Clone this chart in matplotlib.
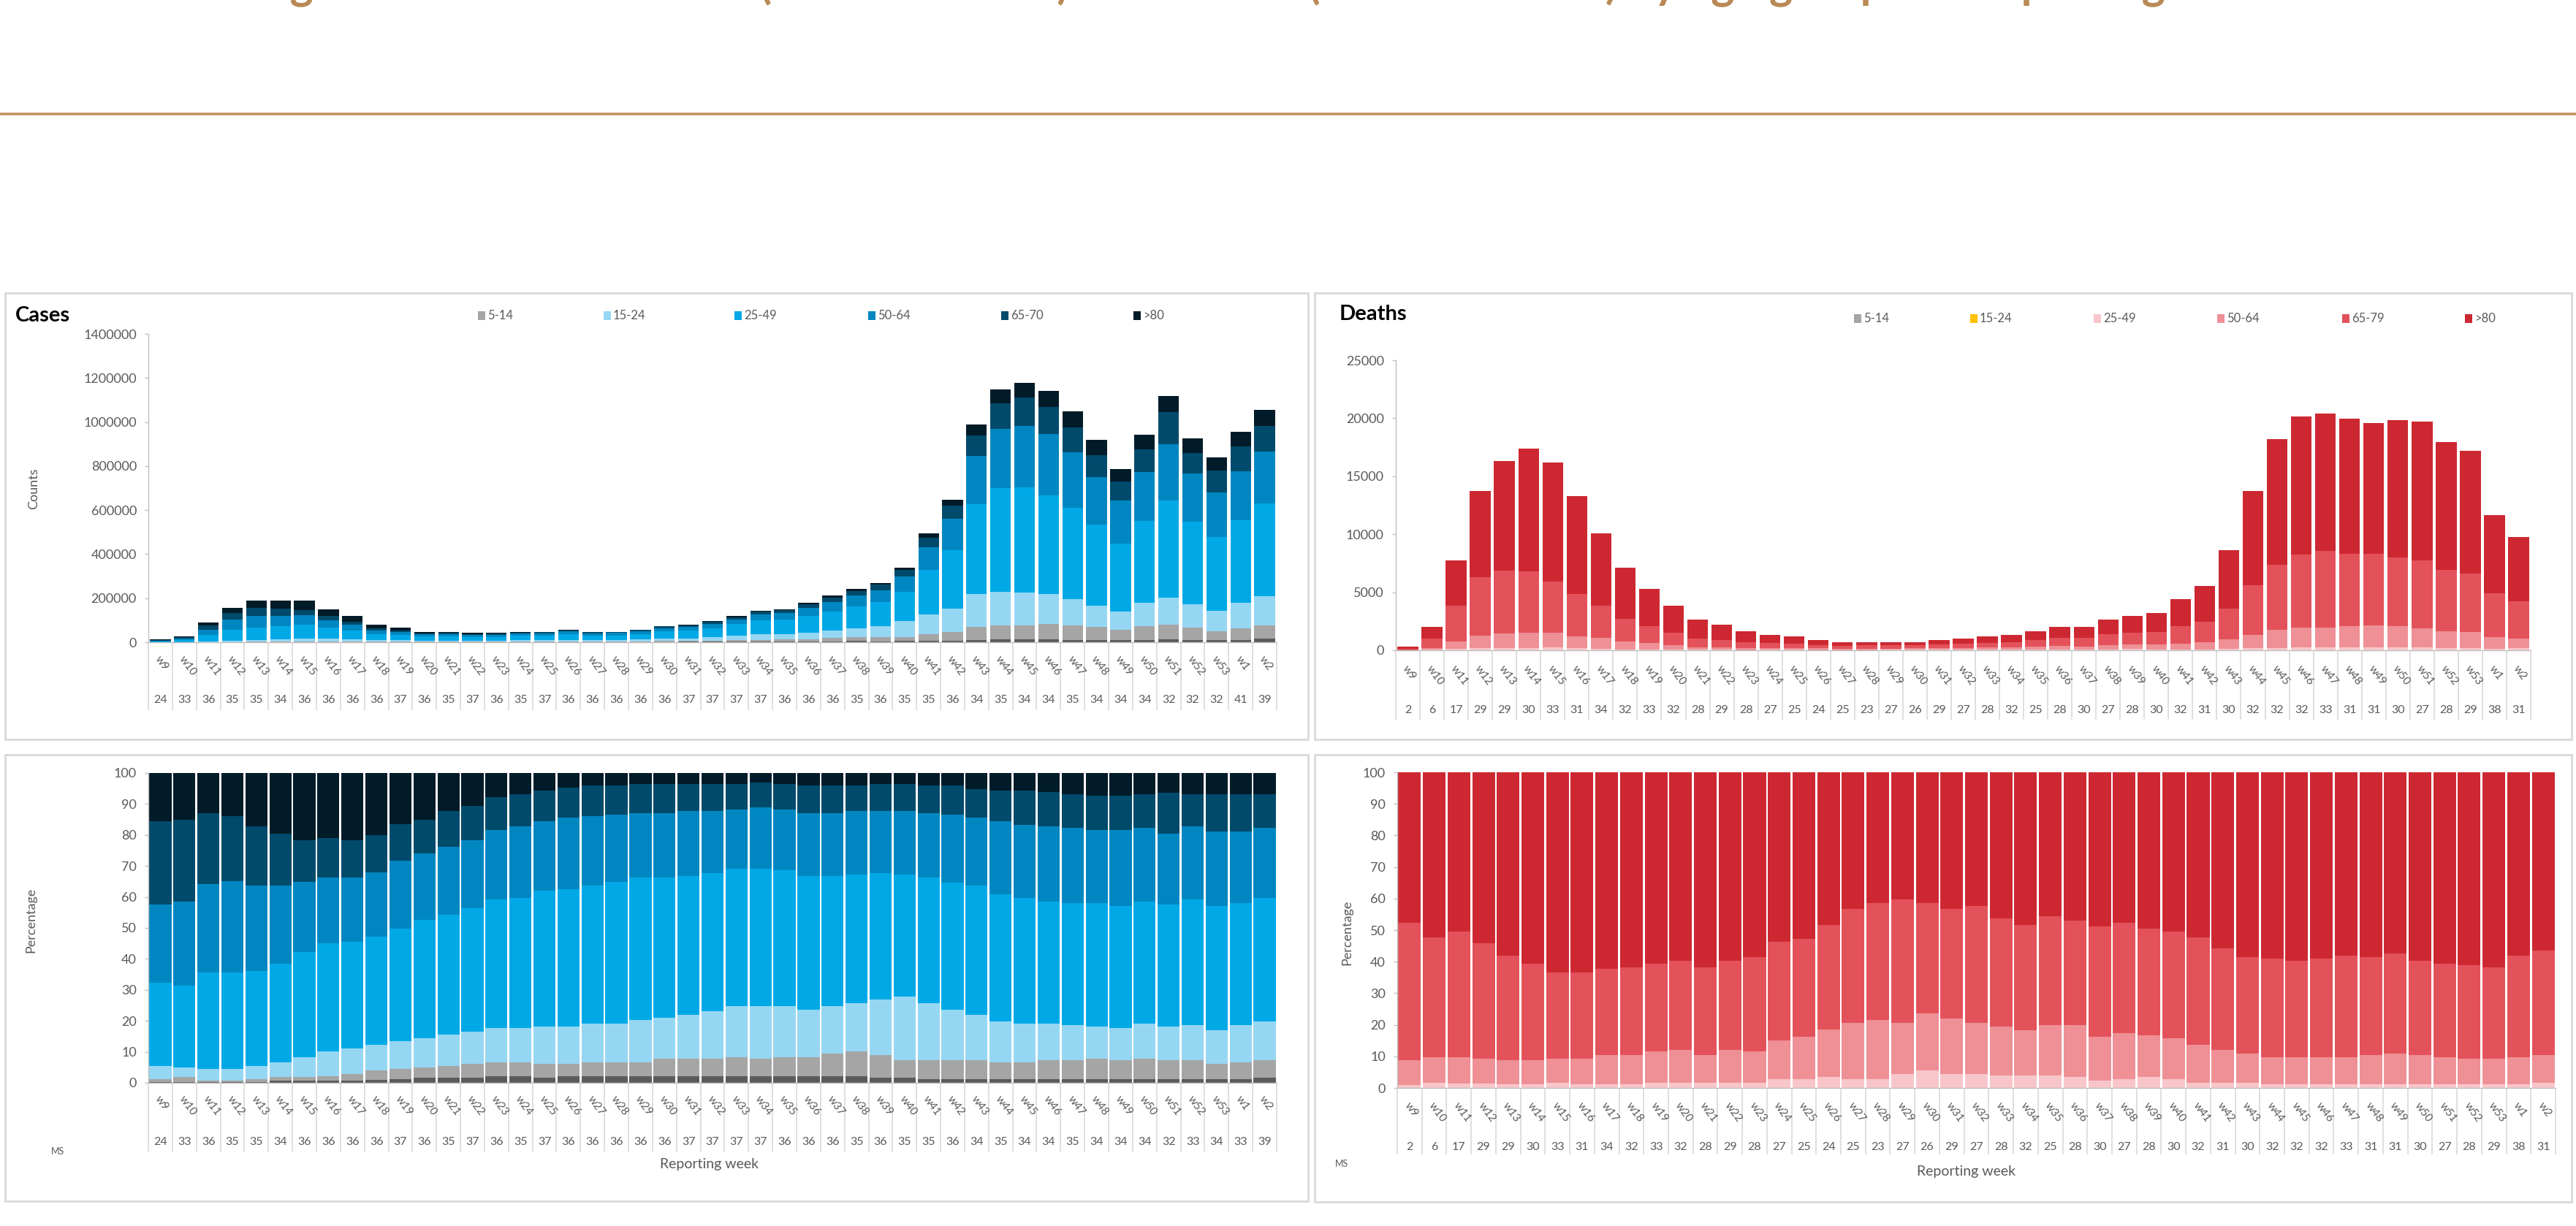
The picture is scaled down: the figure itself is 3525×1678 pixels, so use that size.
import numpy as np
import matplotlib
matplotlib.use("Agg")
import matplotlib.pyplot as plt
from matplotlib.patches import Rectangle
from matplotlib.lines import Line2D
import matplotlib.transforms as mtransforms

plt.rcParams["font.family"] = ["Lato", "DejaVu Sans"]

W, H, DPI = 3525, 1678, 100
GREY_TXT = "#595959"
AXIS = "#BFBFBF"
SEP = "#D9D9D9"

weeks = ["w9", "w10", "w11", "w12", "w13", "w14", "w15", "w16", "w17", "w18",
         "w19", "w20", "w21", "w22", "w23", "w24", "w25", "w26", "w27", "w28",
         "w29", "w30", "w31", "w32", "w33", "w34", "w35", "w36", "w37", "w38",
         "w39", "w40", "w41", "w42", "w43", "w44", "w45", "w46", "w47", "w48",
         "w49", "w50", "w51", "w52", "w53", "w1", "w2"]

# number of reporting member states per week
cases_ms_top = [24, 33, 36, 35, 35, 34, 36, 36, 36, 36, 37, 36, 35, 37, 36, 35, 37, 36, 36, 36,
                36, 36, 37, 37, 37, 37, 36, 36, 36, 35, 36, 35, 35, 36, 34, 35, 34, 34, 35, 34,
                34, 34, 32, 32, 32, 41, 39]
cases_ms_pct = [24, 33, 36, 35, 35, 34, 36, 36, 36, 36, 37, 36, 35, 37, 36, 35, 37, 36, 36, 36,
                36, 36, 37, 37, 37, 37, 36, 36, 36, 35, 36, 35, 35, 36, 34, 35, 34, 34, 35, 34,
                34, 34, 32, 33, 34, 33, 39]
deaths_ms = [2, 6, 17, 29, 29, 30, 33, 31, 34, 32, 33, 32, 28, 29, 28, 27, 25, 24, 25, 23,
             27, 26, 29, 27, 28, 32, 25, 28, 30, 27, 28, 30, 32, 31, 30, 32, 32, 32, 33, 31,
             31, 30, 27, 28, 29, 38, 31]

# weekly totals
cases_total = [12700, 28000, 89000, 156000, 188000, 188000, 188000, 150000, 118000, 80000,
               65000, 48000, 48000, 42000, 42000, 48000, 48000, 57000, 48000, 48000,
               57000, 74000, 80000, 95000, 118000, 143000, 150000, 179000, 211000, 241000,
               270000, 340000, 495000, 647000, 988000, 1149000, 1178000, 1140000, 1048000, 918000,
               787000, 941000, 1117000, 924000, 839000, 956000, 1055000]
deaths_total = [290, 2045, 7750, 13715, 16340, 17370, 16215, 13280, 10080, 7145,
                5270, 3825, 2645, 2215, 1610, 1325, 1205, 890, 720, 720,
                720, 720, 890, 1010, 1180, 1325, 1610, 2045, 2045, 2645,
                2935, 3225, 4380, 5535, 8640, 13715, 18215, 20140, 20430, 19970,
                19560, 19825, 19680, 17925, 17200, 11670, 9745]

# cases: share (%) of each age group per week
cases_0_4 = [0.3, 0.3, 0.2, 0.2, 0.3, 0.7, 0.7, 0.7, 0.8, 1.0, 1.1, 1.6, 1.6, 1.6, 2.1, 2.1, 1.6, 2.1, 2.1, 2.1,
             2.1, 2.1, 2.1, 2.1, 2.1, 2.1, 2.1, 2.1, 2.1, 2.1, 1.6, 1.6, 1.1, 1.1, 1.1, 1.1, 1.1, 1.1, 1.1, 1.1,
             1.1, 1.1, 1.1, 1.1, 1.1, 1.1, 1.6]
cases_5_14 = [0.9, 1.5, 0.5, 0.4, 0.9, 1.1, 1.1, 1.5, 2.0, 2.9, 3.4, 3.4, 3.9, 4.5, 4.5, 4.5, 4.5, 4.0, 4.5, 4.5,
              4.5, 5.7, 5.7, 5.7, 6.2, 5.7, 6.2, 6.1, 7.3, 8.0, 7.3, 5.6, 6.1, 6.1, 6.1, 5.5, 5.5, 6.1, 6.1, 6.6,
              6.1, 6.6, 6.1, 6.1, 5.0, 5.5, 5.6]
cases_15_24 = [4.2, 3.2, 3.8, 3.9, 4.2, 4.9, 6.4, 7.9, 8.3, 8.3, 8.9, 9.4, 10.0, 10.4, 11.0, 11.0, 12.1, 12.1, 12.6, 12.6,
               13.8, 13.2, 14.2, 15.4, 16.5, 17.0, 16.5, 15.4, 15.4, 15.6, 18.0, 20.7, 18.5, 16.4, 14.8, 13.2, 12.6, 12.0, 11.4, 10.5,
               10.4, 11.5, 11.0, 11.4, 10.9, 12.0, 12.6]
cases_25_49 = [27.0, 26.4, 31.1, 31.1, 30.7, 31.7, 34.1, 34.9, 34.4, 35.0, 36.4, 38.3, 38.8, 39.9, 41.5, 42.1, 43.8, 44.4, 44.4, 45.6,
               45.9, 45.3, 44.8, 44.6, 44.2, 44.2, 43.8, 43.2, 42.0, 41.6, 40.9, 39.4, 40.6, 41.1, 41.6, 41.0, 40.5, 39.4, 39.5, 39.9,
               39.4, 39.4, 39.3, 40.6, 40.0, 39.5, 39.9]
cases_50_64 = [25.2, 27.2, 28.6, 29.6, 27.5, 25.2, 22.5, 21.3, 20.8, 20.7, 22.0, 21.4, 21.8, 22.0, 22.6, 23.1, 22.4, 22.9, 22.4, 21.8,
               20.8, 20.8, 20.9, 19.9, 19.3, 19.8, 19.7, 20.3, 20.3, 20.4, 19.9, 20.4, 20.8, 21.9, 21.9, 23.6, 23.6, 24.2, 24.1, 23.6,
               24.7, 23.6, 23.0, 23.6, 24.1, 23.0, 22.5]
cases_65_70 = [26.8, 26.3, 22.9, 20.8, 19.1, 16.9, 13.6, 12.6, 12.1, 12.1, 11.6, 10.8, 11.6, 10.9, 10.4, 10.3, 9.9, 9.8, 9.9, 9.3,
               9.4, 9.4, 8.8, 8.8, 8.2, 8.2, 8.2, 8.8, 8.8, 8.2, 8.8, 8.8, 8.8, 9.3, 9.4, 9.9, 11.0, 11.0, 10.9, 10.9,
               10.9, 10.9, 13.1, 10.3, 12.0, 12.0, 10.9]
cases_80 = [15.6, 15.1, 12.9, 14.0, 17.3, 19.5, 21.6, 21.1, 21.6, 20.0, 16.6, 15.1, 12.3, 10.7, 7.9, 6.9, 5.7, 4.7, 4.1, 4.1,
            3.5, 3.5, 3.5, 3.5, 3.5, 3.0, 3.5, 4.1, 4.1, 4.1, 3.5, 3.5, 4.1, 4.1, 5.1, 5.7, 5.7, 6.2, 6.9, 7.4,
            7.4, 6.9, 6.4, 6.9, 6.9, 6.9, 6.9]

# deaths: share (%) of each age group per week
deaths_5_14 = [0.0] * 47
deaths_15_24 = [0.0, 0.1, 0.1, 0.1, 0.1, 0.1, 0.1, 0.1, 0.1, 0.1, 0.1, 0.1, 0.1, 0.1, 0.1, 0.1, 0.1, 0.1, 0.1, 0.1,
                0.1, 0.1, 0.1, 0.1, 0.1, 0.1, 0.1, 0.1, 0.1, 0.1, 0.1, 0.1, 0.1, 0.1, 0.1, 0.1, 0.1, 0.1, 0.1, 0.1,
                0.1, 0.1, 0.1, 0.1, 0.1, 0.1, 0.1]
deaths_25_49 = [0.9, 1.6, 1.3, 1.3, 1.1, 1.1, 1.6, 1.1, 1.1, 1.1, 1.6, 1.6, 1.6, 1.6, 1.6, 2.7, 2.7, 3.3, 2.7, 2.7,
                4.3, 5.4, 4.3, 4.3, 3.8, 3.8, 3.8, 3.3, 2.2, 2.7, 3.3, 2.7, 1.6, 1.6, 1.6, 1.1, 1.1, 1.1, 1.1, 1.1,
                1.1, 1.1, 1.1, 1.1, 1.1, 1.1, 1.6]
deaths_50_64 = [7.8, 8.0, 8.3, 7.8, 7.5, 7.5, 7.5, 8.0, 9.2, 9.2, 9.9, 10.4, 8.7, 10.4, 9.9, 12.3, 13.4, 15.1, 17.7, 18.8,
                16.1, 18.2, 17.7, 16.1, 15.6, 14.5, 16.1, 16.6, 13.9, 14.6, 13.3, 12.9, 11.9, 10.4, 9.2, 8.5, 8.5, 8.5, 8.5, 9.2,
                9.7, 9.2, 8.5, 8.0, 8.0, 8.5, 8.7]
deaths_65_79 = [43.5, 38.1, 39.9, 36.7, 33.3, 30.6, 27.4, 27.4, 27.4, 27.9, 27.7, 28.2, 27.9, 28.2, 29.9, 31.3, 31.1, 33.2, 36.1, 36.9,
                39.2, 34.8, 34.5, 37.2, 34.3, 33.3, 34.4, 32.9, 35.0, 34.8, 33.8, 33.9, 34.2, 32.1, 30.6, 31.2, 30.6, 31.2, 32.3, 31.1,
                31.6, 29.9, 29.6, 29.6, 29.1, 32.3, 33.2]
deaths_80 = [47.8, 52.2, 50.4, 54.1, 58.0, 60.7, 63.4, 63.4, 62.2, 61.7, 60.7, 59.7, 61.7, 59.7, 58.5, 53.6, 52.7, 48.3, 43.4, 41.5,
             40.3, 41.5, 43.4, 42.3, 46.2, 48.3, 45.6, 47.1, 48.8, 47.8, 49.5, 50.4, 52.2, 55.8, 58.5, 59.1, 59.7, 59.1, 58.0, 58.5,
             57.5, 59.7, 60.7, 61.2, 61.7, 58.0, 56.4]

cases_groups = ["0-4", "5-14", "15-24", "25-49", "50-64", "65-70", ">80"]
cases_colors = ["#5B5B5B", "#A5A5A5", "#95D6F3", "#00A9E6", "#0087C1", "#004A6B", "#021B28"]
deaths_groups = ["5-14", "15-24", "25-49", "50-64", "65-79", ">80"]
deaths_colors = ["#A5A5A5", "#FFC000", "#F8C6CA", "#EE9096", "#E3525A", "#CD2832"]

cases_pct = [cases_0_4, cases_5_14, cases_15_24, cases_25_49, cases_50_64, cases_65_70, cases_80]
deaths_pct = [deaths_5_14, deaths_15_24, deaths_25_49, deaths_50_64, deaths_65_79, deaths_80]

cases_counts = [np.array(cases_total) * np.array(p) / 100 for p in cases_pct]
deaths_counts = [np.array(deaths_total) * np.array(p) / 100 for p in deaths_pct]

fig = plt.figure(figsize=(W / DPI, H / DPI), dpi=DPI)


def fbox(x0, y0, x1, y1):
    return [x0 / W, 1 - y1 / H, (x1 - x0) / W, (y1 - y0) / H]


def down(ax, px):
    return ax.get_xaxis_transform() + mtransforms.ScaledTranslation(0, -px / DPI, fig.dpi_scale_trans)


def panel(rect, series, colors, width, ymax, yticks, ms, lab_px, num_px, sep_px):
    ax = fig.add_axes(fbox(*rect))
    x = np.arange(len(weeks))
    base = np.zeros(len(weeks))
    for vals, c in zip(series, colors):
        vals = np.asarray(vals, dtype=float)
        ax.bar(x, vals, width, bottom=base, color=c, linewidth=0)
        base += vals
    ax.set_xlim(-0.5, len(weeks) - 0.5)
    ax.set_ylim(0, ymax)
    ax.set_yticks(yticks)
    ax.set_yticklabels([f"{v:.0f}" for v in yticks])
    ax.tick_params(axis="y", length=3.6, width=1, color=AXIS, labelcolor=GREY_TXT, labelsize=13, pad=8)
    ax.tick_params(axis="x", length=0, labelbottom=False)
    for s in ["top", "right"]:
        ax.spines[s].set_visible(False)
    for s in ["left", "bottom"]:
        ax.spines[s].set_color(AXIS)
        ax.spines[s].set_linewidth(1)
    # category table under the axis
    ah = rect[3] - rect[1]
    ax.vlines(np.arange(len(weeks) + 1) - 0.5, -sep_px / ah, 0, transform=ax.get_xaxis_transform(),
              colors=SEP, linewidth=1.2, clip_on=False)
    for i, (w, n) in enumerate(zip(weeks, ms)):
        ax.text(i - 0.13, 0, w, transform=down(ax, lab_px), rotation=-53, rotation_mode="anchor",
                ha="left", va="center", fontsize=11, color=GREY_TXT)
        ax.text(i, 0, str(n), transform=down(ax, num_px), ha="center", va="center",
                fontsize=11.5, color=GREY_TXT)
    return ax


def legend(labels, colors, xs, y):
    for lab, c, x in zip(labels, colors, xs):
        fig.add_artist(Rectangle(((x - 5) / W, 1 - (y + 6) / H), 10 / W, 12 / H,
                                 transform=fig.transFigure, color=c, lw=0))
        fig.text((x + 8) / W, 1 - y / H, lab, ha="left", va="center", fontsize=12, color=GREY_TXT)


# panel frames
for x0, y0, x1, y1 in [(7, 401, 1790, 1012), (1799, 401, 3519, 1012),
                       (7, 1033, 1790, 1644), (1799, 1033, 3519, 1645)]:
    fig.add_artist(Rectangle((x0 / W, 1 - y1 / H), (x1 - x0) / W, (y1 - y0) / H,
                             transform=fig.transFigure, fill=False, edgecolor=SEP, lw=2))

# top rule and title (cropped at the top edge, as in the source page)
fig.add_artist(Line2D([0, 1], [1 - 156 / H] * 2, transform=fig.transFigure, color="#C0935E", lw=2.6))
fig.text(1740 / W, 1 + 2 / H,
         "Age distribution of cases (number and %) and deaths (number and %) by age group and reporting week",
         ha="center", va="baseline", fontsize=44, fontweight="bold", color="#B98A55")

case_ticks = [0, 200000, 400000, 600000, 800000, 1000000, 1200000, 1400000]
death_ticks = [0, 5000, 10000, 15000, 20000, 25000]
pct_ticks = [0, 10, 20, 30, 40, 50, 60, 70, 80, 90, 100]

ax1 = panel((203, 457, 1747, 879), cases_counts, cases_colors, 0.86, 1400000, case_ticks,
            cases_ms_top, 21, 79, 93)
ax2 = panel((1910, 493, 3463, 890), deaths_counts, deaths_colors, 0.86, 25000, death_ticks,
            deaths_ms, 23, 82, 95)
ax3 = panel((203, 1058, 1747, 1482), cases_pct, cases_colors, 0.92, 100, pct_ticks,
            cases_ms_pct, 20, 81, 94)
ax4 = panel((1912, 1057, 3497, 1489), deaths_pct, deaths_colors, 0.92, 100, pct_ticks,
            deaths_ms, 22, 81, 91)

fig.text(21 / W, 1 - 432 / H, "Cases", ha="left", va="center", fontsize=21, fontweight="bold", color="black")
fig.text(1833 / W, 1 - 430 / H, "Deaths", ha="left", va="center", fontsize=21, fontweight="bold", color="black")

legend(cases_groups[1:], cases_colors[1:], [659, 831, 1010, 1193, 1375, 1556], 432)
legend(deaths_groups, deaths_colors, [2542, 2701, 2870, 3039, 3210, 3378], 436)

fig.text(46 / W, 1 - 669 / H, "Counts", rotation=90, ha="center", va="center", fontsize=13, color=GREY_TXT)
fig.text(42 / W, 1 - 1259 / H, "Percentage", rotation=90, ha="center", va="center", fontsize=13, color=GREY_TXT)
fig.text(1843 / W, 1 - 1276 / H, "Percentage", rotation=90, ha="center", va="center", fontsize=13, color=GREY_TXT)
fig.text(971 / W, 1 - 1594 / H, "Reporting week", ha="center", va="center", fontsize=14, color=GREY_TXT)
fig.text(2691 / W, 1 - 1603 / H, "Reporting week", ha="center", va="center", fontsize=14, color=GREY_TXT)
fig.text(79 / W, 1 - 1576 / H, "MS", ha="center", va="center", fontsize=9, color=GREY_TXT)
fig.text(1836 / W, 1 - 1593 / H, "MS", ha="center", va="center", fontsize=9, color=GREY_TXT)

fig.savefig("out.png", dpi=DPI)
